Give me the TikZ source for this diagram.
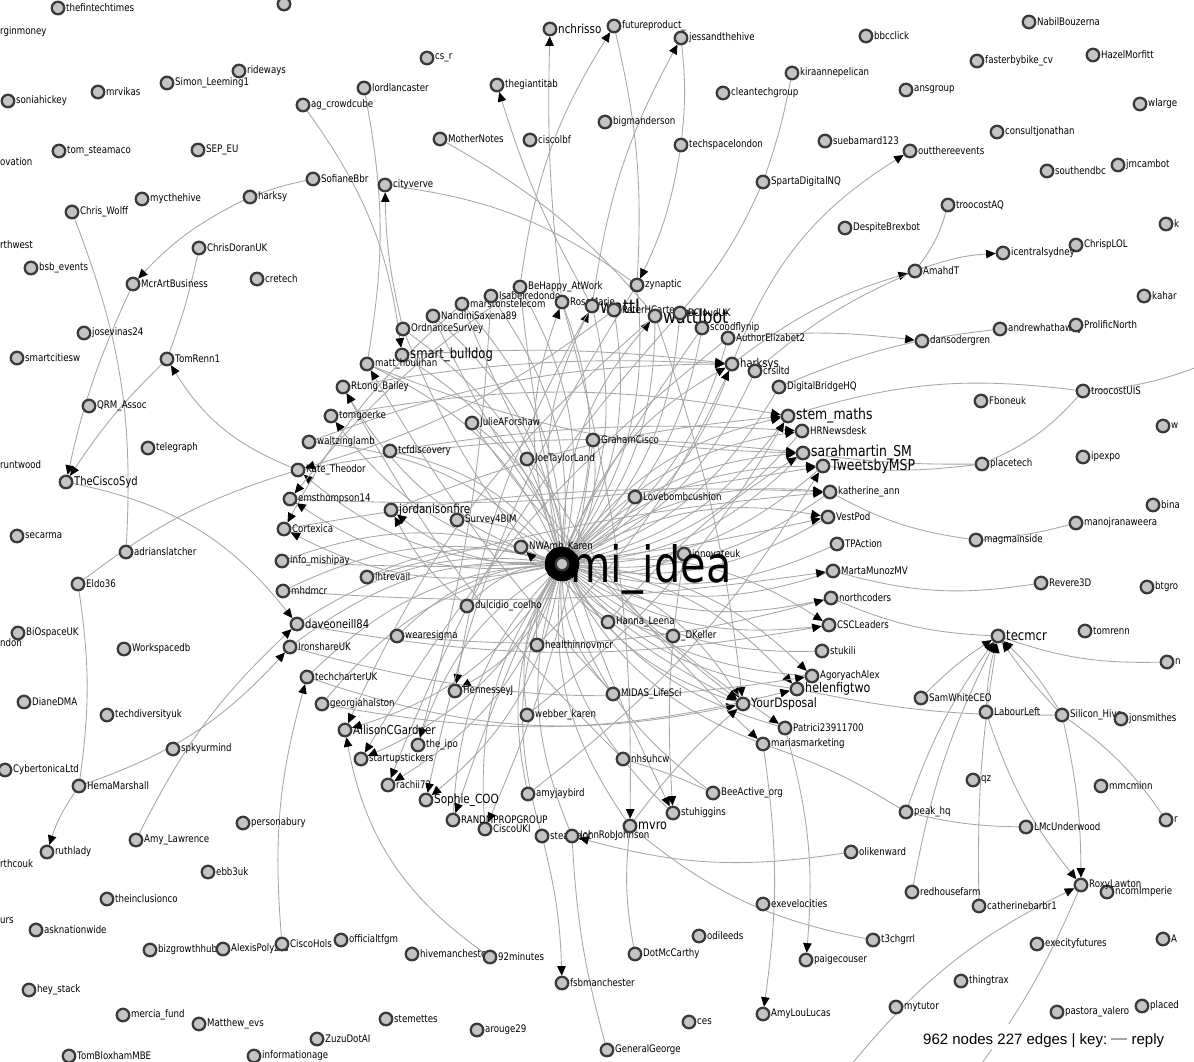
\documentclass[tikz,border=0pt]{standalone}
\usepackage{fontspec}
\setmainfont{DejaVu Sans}
\newfontfamily\lbf[FakeStretch=0.83]{DejaVu Sans}
\newfontfamily\keyf{Liberation Sans}
\usetikzlibrary{arrows.meta}
\definecolor{ndfill}{HTML}{C4C4C4}
\definecolor{ndline}{HTML}{3A3A3A}
\definecolor{edcol}{HTML}{A6A6A6}
\pgfdeclarelayer{bg}
\pgfsetlayers{bg,main}
\tikzset{
  nd/.style={circle, draw=ndline, fill=ndfill, line width=2.3pt, minimum size=12.5pt, inner sep=0pt},
  lb/.style={font=\lbf\fontsize{10.4}{12}\selectfont, text=black, inner sep=0.6pt},
  ed/.style={draw=edcol, line width=0.85pt},
  ar/.style={ed, -{Triangle[length=9.5pt,width=8.5pt,color=black]}},
  edge txt/.style={lb, anchor=west, inner sep=0pt},
}
% small and large labelled nodes
\newcommand\N[4]{\node[nd,label={[lb]0:{#4}}] (#1) at (#2,#3) {};}
\newcommand\B[5]{\node[nd,label={[lb,font=\lbf\fontsize{#5}{#5}\selectfont]0:{#4}}] (#1) at (#2,#3) {};}
\begin{document}
\begin{tikzpicture}[x=1pt,y=-1pt]
\useasboundingbox (0,0) rectangle (1194,1061);
\begin{pgfonlayer}{bg}
\fill[white] (0,0) rectangle (1194,1061);
\end{pgfonlayer}

% ---------- outer left ----------
\N{tft}{58}{8}{thefintechtimes}
\N{topA}{284}{4}{}
\N{rideways}{239}{71}{rideways}
\N{SimonLeeming1}{167}{83}{Simon\_Leeming1}
\N{mrvikas}{98}{92}{mrvikas}
\N{soniahickey}{8}{101}{soniahickey}
\N{tomsteamaco}{59}{151}{tom\_steamaco}
\N{SEPEU}{198}{150}{SEP\_EU}
\N{mycthehive}{142}{199}{mycthehive}
\N{harksy}{250}{197}{harksy}
\N{ChrisWolff}{72}{212}{Chris\_Wolff}
\N{ChrisDoranUK}{199}{248}{ChrisDoranUK}
\N{bsbevents}{31}{268}{bsb\_events}
\N{cretech}{257}{279}{cretech}
\N{McrArtBusiness}{133}{284}{McrArtBusiness}
\N{josevinas24}{84}{333}{josevinas24}
\N{smartcitiesw}{17}{358}{smartcitiesw}
\N{TomRenn1}{167}{359}{TomRenn1}
\N{QRMAssoc}{89}{406}{QRM\_Assoc}
\N{telegraph}{148}{448}{telegraph}
\B{TheCiscoSyd}{66}{482}{TheCiscoSyd}{12}
\N{secarma}{17}{536}{secarma}
\N{adrianslatcher}{126}{552}{adrianslatcher}
\N{Eldo36}{78}{584}{Eldo36}
\N{BiOspaceUK}{18}{633}{BiOspaceUK}
\N{Workspacedb}{124}{649}{Workspacedb}
\N{DianeDMA}{24}{702}{DianeDMA}
\N{techdiversityuk}{107}{715}{techdiversityuk}
\N{spkyurmind}{173}{749}{spkyurmind}
\N{CybertonicaLtd}{5}{770}{CybertonicaLtd}
\N{HemaMarshall}{79}{786}{HemaMarshall}
\N{personabury}{243}{823}{personabury}
\N{AmyLawrence}{136}{840}{Amy\_Lawrence}
\N{ruthlady}{47}{852}{ruthlady}
\N{ebb3uk}{208}{872}{ebb3uk}
\N{theinclusionco}{107}{899}{theinclusionco}
\N{asknationwide}{36}{930}{asknationwide}
\N{bizgrowthhub}{150}{950}{bizgrowthhub}
\N{AlexisPolyzos}{223}{949}{AlexisPolyzos}
\N{CiscoHols}{282}{944}{CiscoHols}
\N{heystack}{29}{990}{hey\_stack}
\N{merciafund}{123}{1015}{mercia\_fund}
\N{Matthewevs}{199}{1024}{Matthew\_evs}
\N{TomBloxhamMBE}{69}{1056}{TomBloxhamMBE}
\N{informationage}{254}{1056}{informationage}
\node[edge txt] at (0,32) {rginmoney};
\node[edge txt] at (0,162) {ovation};
\node[edge txt] at (0,245) {rthwest};
\node[edge txt] at (0,465) {runtwood};
\node[edge txt] at (0,643) {ndon};
\node[edge txt] at (0,864) {rthcouk};
\node[edge txt] at (0,921) {urs};

% ---------- outer top ----------
\N{csr}{427}{58}{cs\_r}
\N{lordlancaster}{364}{88}{lordlancaster}
\N{agcrowdcube}{303}{105}{ag\_crowdcube}
\N{theglantitab}{497}{85}{thegiantitab}
\B{nchrisso}{550}{29}{nchrisso}{12.5}
\N{MotherNotes}{440}{139}{MotherNotes}
\N{ciscolbf}{530}{140}{ciscolbf}
\N{SofianeBbr}{313}{179}{SofianeBbr}
\N{cityverve}{385}{185}{cityverve}
\N{bigmanderson}{605}{122}{bigmanderson}
\N{futureproduct}{614}{26}{futureproduct\_}
\N{jessandthehive}{681}{38}{jessandthehive}
\N{bbcclick}{866}{36}{bbcclick}
\N{kiraannepelican}{792}{73}{kiraannepelican}
\N{cleantechgroup}{723}{93}{cleantechgroup}
\N{techspacelondon}{681}{145}{techspacelondon}
\N{suebarnard123}{825}{141}{suebarnard123}
\N{SpartaDigitalNQ}{763}{182}{SpartaDigitalNQ}
\N{DespiteBrexbot}{845}{228}{DespiteBrexbot}

% ---------- outer right ----------
\N{NabilBouzerna}{1029}{22}{NabilBouzerna}
\N{fasterbybike}{977}{61}{fasterbybike\_cv}
\N{HazelMorfitt}{1093}{55}{HazelMorfitt}
\N{ansgroup}{906}{90}{ansgroup}
\N{wlarge}{1140}{104}{wlarge}
\N{consultjonathan}{997}{132}{consultjonathan}
\N{outthereevents}{910}{151}{outthereevents}
\N{southendbc}{1047}{171}{southendbc}
\N{jmcambot}{1118}{165}{jmcambot}
\N{troocostAQ}{948}{205}{troocostAQ}
\N{kk}{1166}{224}{k}
\N{ChrispLOL}{1076}{245}{ChrispLOL}
\N{icentralsydney}{1003}{253}{icentralsydney}
\N{AmahdT}{915}{271}{AmahdT}
\N{kahar}{1144}{296}{kahar}
\N{andrewhathaway}{1000}{329}{andrewhathaway}
\N{ProlificNorth}{1076}{325}{ProlificNorth}
\N{dansodergren}{922}{341}{dansodergren}
\N{troocostUIS}{1083}{391}{troocostUIS}
\N{Fboneuk}{981}{401}{Fboneuk}
\N{ww}{1163}{426}{w}
\N{ipexpo}{1083}{457}{ipexpo}
\N{placetech}{982}{464}{placetech}
\N{bina}{1153}{505}{bina}
\N{manojranaweera}{1076}{523}{manojranaweera}
\N{magmainside}{976}{540}{magmainside}
\N{Revere3D}{1041}{583}{Revere3D}
\N{btgro}{1147}{587}{btgro}
\B{tecmcr}{998}{636}{tecmcr}{14}
\N{tomrenn}{1085}{631}{tomrenn}
\N{nn}{1167}{662}{n}
\N{SamWhiteCEO}{921}{698}{SamWhiteCEO}
\N{LabourLeft}{986}{712}{LabourLeft}
\N{SiliconHive}{1062}{715}{Silicon\_Hive}
\N{jonsmithes}{1121}{719}{jonsmithes}
\N{qz}{973}{780}{qz}
\N{mmcminn}{1101}{786}{mmcminn}
\N{rr}{1166}{820}{r}
\N{peakhq}{906}{812}{peak\_hq}
\N{LMcUnderwood}{1026}{827}{LMcUnderwood}
\N{Imperie}{1107}{892}{ncomImperie}
\N{RoxyLawton}{1081}{885}{RoxyLawton}
\N{redhousefarm}{912}{892}{redhousefarm}
\N{catherinebarbr1}{979}{906}{catherinebarbr1}
\N{AA}{1163}{939}{A}
\N{execityfutures}{1037}{944}{execityfutures}
\N{thingtrax}{961}{981}{thingtrax}
\N{mytutor}{896}{1007}{mytutor}
\N{pastoravalero}{1057}{1012}{pastora\_valero}
\N{placed}{1142}{1006}{placed}

% ---------- outer bottom ----------
\N{Patrici}{785}{728}{Patrici23911700}
\N{mariasmarketing}{763}{744}{mariasmarketing}
\N{nhsuhcw}{623}{759}{nhsuhcw}
\N{BeeActive}{713}{793}{BeeActive\_org}
\N{stuhiggins}{673}{813}{stuhiggins}
\N{olikenward}{851}{852}{olikenward}
\N{exevelocities}{763}{904}{exevelocities}
\N{odileeds}{699}{936}{odileeds}
\N{t3chgrrl}{873}{940}{t3chgrrl}
\N{DotMcCarthy}{635}{954}{DotMcCarthy}
\N{paigecouser}{806}{960}{paigecouser}
\N{AmyLouLucas}{763}{1014}{AmyLouLucas}
\N{ces}{689}{1022}{ces}
\N{GeneralGeorge}{607}{1050}{GeneralGeorge}
\N{officialtfgm}{341}{940}{officialtfgm}
\N{hivemanchester}{412}{954}{hivemanchester}
\N{minutes92}{490}{957}{92minutes}
\N{fsbmanchester}{562}{983}{fsbmanchester}
\N{stemettes}{386}{1019}{stemettes}
\N{arouge29}{477}{1030}{arouge29}
\N{ZuzuDotAI}{317}{1039}{ZuzuDotAI}

% ---------- inner ring ----------
\N{OrdnanceSurvey}{403}{329}{OrdnanceSurvey}
\N{NandiniSaxena89}{433}{316}{NandiniSaxena89}
\N{marstonstelecom}{462}{304}{marstonstelecom}
\N{Isabel}{491}{296}{Isabelredondo}
\N{BeHappy}{520}{287}{BeHappy\_AtWork}
\N{RoseMarie}{562}{302}{RoseMarie}
\N{zynaptic}{637}{285}{zynaptic}
\B{wattlA}{592}{306}{wattl}{19}
\N{PeterHCarter}{614}{310}{PeterHCarter}
\B{wattlbot}{655}{316}{wattlbot}{19}
\N{BCloudUK}{680}{313}{BCloudUK}
\N{scood}{702}{328}{scoodflynip}
\N{AuthorElizabet2}{728}{338}{AuthorElizabet2}
\B{smartbulldog}{402}{355}{smart\_bulldog}{14}
\N{matthoulihan}{367}{364}{matt\_houlihan}
\N{RLongBailey}{343}{387}{RLong\_Bailey}
\N{tomgoerke}{331}{416}{tomgoerke}
\N{JulieAForshaw}{472}{423}{JulieAForshaw}
\N{waltzinglamb}{309}{442}{waltzinglamb}
\N{tcfdiscovery}{390}{451}{tcfdiscovery}
\N{JoeTaylorLand}{527}{459}{JoeTaylorLand}
\N{GrahamCisco}{593}{440}{GrahamCisco}
\N{KateTheodor}{298}{470}{Kate\_Theodor}
\N{emsthompson14}{290}{499}{emsthompson14}
\B{jordanisonfire}{391}{510}{jordanisonfire}{12.5}
\N{Survey4BIM}{457}{520}{Survey4BIM}
\N{Cortexica}{284}{529}{Cortexica}
\N{infomishipay}{282}{561}{info\_mishipay}
\N{lhtrevail}{367}{577}{lhtrevail}
\N{mhdmcr}{283}{591}{mhdmcr}
\N{dulcidio}{467}{606}{dulcidio\_coelho}
\B{daveoneill84}{297}{624}{daveoneill84}{12}
\N{IronshareUK}{290}{647}{IronshareUK}
\N{wearesigma}{397}{636}{wearesigma}
\N{healthinnovmcr}{537}{645}{healthinnovmcr}
\N{techcharterUK}{307}{677}{techcharterUK}
\N{HennesseyJ}{455}{691}{HennesseyJ}
\N{georgiahalston}{322}{704}{georgiahalston}
\N{webberkaren}{527}{715}{webber\_karen}
\B{AllisonCGardner}{345}{730}{AllisonCGardner}{12.3}
\N{theipo}{418}{745}{the\_ipo}
\N{startupstickers}{361}{759}{startupstickers}
\N{rachii72}{388}{785}{rachii72}
\N{amyjaybird}{528}{794}{amyjaybird}
\B{SophieCOO}{426}{800}{Sophie\_COO}{12.6}
\N{CiscoUKI}{485}{829}{CiscoUKI}
\N{RANDM}{453}{820}{RANDMPROPGROUP}
\N{steamacc}{542}{836}{steamacc}
\N{JohnRob}{572}{836}{JohnRobJohnson}
\B{mvro}{630}{826}{mvro}{13.5}
\N{NWAmbKaren}{521}{547}{NWAmb\_Karen}
\N{Lovebombcushion}{635}{497}{Lovebombcushion}
\N{innovateuk}{684}{554}{innovateuk}
\N{HannaLeena}{608}{622}{Hanna\_Leena}
\N{DKeller}{673}{636}{\_DKeller}
\N{MIDAS}{613}{694}{MIDAS\_LifeSci}
\B{harksys}{732}{364}{harksys}{12}
\N{crsiltd}{755}{371}{crsiltd}
\N{DigitalBridgeHQ}{779}{387}{DigitalBridgeHQ}
\B{stemmaths}{788}{416}{stem\_maths}{15}
\N{HRNewsdesk}{802}{431}{HRNewsdesk}
\B{sarahmartin}{803}{453}{sarahmartin\_SM}{15}
\B{TweetsbyMSP}{823}{466}{TweetsbyMSP}{15}
\N{katherineann}{830}{492}{katherine\_ann}
\N{VestPod}{828}{517}{VestPod}
\N{TPAction}{837}{544}{TPAction}
\N{MartaMunozMV}{833}{571}{MartaMunozMV}
\N{northcoders}{831}{598}{northcoders}
\N{CSCLeaders}{829}{625}{CSCLeaders}
\N{stukili}{822}{651}{stukili}
\N{AgoryachAlex}{812}{676}{AgoryachAlex}
\B{helenfigtwo}{797}{689}{helenfigtwo}{13.4}
\B{YourDsposal}{743}{704}{YourDsposal}{13}
\node[nd] (mi) at (562,564) {};
\node[anchor=base west, inner sep=0pt, font=\lbf\fontsize{50}{50}\selectfont] at (570,582) {mi\_idea};

\coordinate (offR) at (1200,366);
\coordinate (offB) at (850,1066);
\coordinate (offB2) at (980,1066);

% ---------- connectors ----------
\begin{pgfonlayer}{bg}
% replies into the hub
\foreach \s in {OrdnanceSurvey,NandiniSaxena89,marstonstelecom,Isabel,BeHappy,RoseMarie,zynaptic,PeterHCarter,wattlA,wattlbot,BCloudUK,scood,AuthorElizabet2,crsiltd,DigitalBridgeHQ,HRNewsdesk,katherineann,TPAction,northcoders,stukili,helenfigtwo,Patrici,mariasmarketing,MIDAS,BeeActive,nhsuhcw,mvro,JohnRob,steamacc,amyjaybird,webberkaren,CiscoUKI,RANDM,theipo,georgiahalston,techcharterUK,IronshareUK,wearesigma,daveoneill84,mhdmcr,lhtrevail,infomishipay,waltzinglamb,tcfdiscovery,matthoulihan,smartbulldog,JulieAForshaw,JoeTaylorLand,GrahamCisco,Lovebombcushion,Survey4BIM,dulcidio,healthinnovmcr,HannaLeena,DKeller,innovateuk,sarahmartin,stemmaths,harksys,TweetsbyMSP,VestPod,MartaMunozMV,CSCLeaders,AgoryachAlex,YourDsposal}
  \draw[ar] (\s) to[bend left=20] (mi);
% replies out of the hub
\foreach \t in {RLongBailey,tomgoerke,KateTheodor,emsthompson14,Cortexica,jordanisonfire,HennesseyJ,rachii72,SophieCOO,startupstickers,AllisonCGardner,NWAmbKaren,harksys,sarahmartin,TweetsbyMSP,YourDsposal,stemmaths,katherineann,RoseMarie,wattlA,wattlbot,AgoryachAlex,helenfigtwo,HRNewsdesk,VestPod,CSCLeaders}
  \draw[ar] (mi) to[bend left=20] (\t);
% arcs across the ring
\draw[ar] (KateTheodor) to[bend left=8] (sarahmartin);
\draw[ar] (emsthompson14) to[bend right=6] (TweetsbyMSP);
\draw[ar] (Cortexica) to[bend left=6] (katherineann);
\draw[ar] (infomishipay) to[bend right=8] (VestPod);
\draw[ar] (waltzinglamb) to[bend left=10] (harksys);
\draw[ar] (tomgoerke) to[bend left=10] (stemmaths);
\draw[ar] (RLongBailey) to[bend left=6] (harksys);
\draw[ar] (matthoulihan) to[bend right=10] (sarahmartin);
\draw[ar] (mhdmcr) to[bend right=6] (MartaMunozMV);
\draw[ar] (daveoneill84) to[bend right=10] (CSCLeaders);
\draw[ar] (IronshareUK) to[bend right=12] (AgoryachAlex);
\draw[ar] (techcharterUK) to[bend right=15] (YourDsposal);
\draw[ar] (lhtrevail) to[bend left=5] (katherineann);
\draw[ar] (jordanisonfire) to[bend left=8] (stemmaths);
\draw[ar] (tcfdiscovery) to[bend left=6] (HRNewsdesk);
\draw[ar] (wearesigma) to[bend right=10] (northcoders);
\draw[ar] (georgiahalston) to[bend right=12] (helenfigtwo);
\draw[ar] (OrdnanceSurvey) to[bend right=20] (YourDsposal);
\draw[ar] (NandiniSaxena89) to[bend right=15] (Patrici);
\draw[ar] (marstonstelecom) to[bend right=12] (mariasmarketing);
\draw[ar] (BeHappy) to[bend right=10] (stuhiggins);
\draw[ar] (RoseMarie) to[bend left=8] (mvro);
\draw[ar] (wattlA) to[bend right=10] (HennesseyJ);
\draw[ar] (wattlbot) to[bend right=12] (AllisonCGardner);
\draw[ar] (zynaptic) to[bend right=10] (SophieCOO);
\draw[ar] (BCloudUK) to[bend right=10] (rachii72);
\draw[ar] (scood) to[bend right=8] (RANDM);
\draw[ar] (AuthorElizabet2) to[bend right=10] (startupstickers);
\draw[ar] (smartbulldog) to[bend left=5] (harksys);
\draw[ar] (Isabel) to[bend left=6] (theipo);
\draw[ar] (JulieAForshaw) to[bend right=8] (YourDsposal);
\draw[ar] (GrahamCisco) to[bend left=8] (CiscoUKI);
\draw[ar] (wattlbot) to[bend left=6] (YourDsposal);
\draw[ar] (PeterHCarter) to[bend left=10] (KateTheodor);
\draw[ar] (BeHappy) to[bend right=8] (emsthompson14);
\draw[ar] (marstonstelecom) to[bend right=10] (Cortexica);
\draw[ar] (HannaLeena) to[bend left=8] (sarahmartin);
\draw[ar] (healthinnovmcr) to[bend right=10] (harksys);
\draw[ar] (webberkaren) to[bend right=10] (stemmaths);
\draw[ar] (amyjaybird) to[bend right=10] (TweetsbyMSP);
\draw[ar] (dulcidio) to[bend left=10] (jordanisonfire);
\draw[ar] (MIDAS) to[bend left=6] (matthoulihan);
\draw[ar] (nhsuhcw) to[bend left=8] (RLongBailey);
% outer connectors
\draw[ar] (harksys) to[bend left=10] (AmahdT);
\draw[ed] (crsiltd) to[bend left=8] (AmahdT);
\draw[ar] (harksys) to[bend left=18] (outthereevents);
\draw[ar] (AuthorElizabet2) to[bend left=6] (dansodergren);
\draw[ed] (andrewhathaway) to[bend right=8] (DigitalBridgeHQ);
\draw[ar] (AmahdT) to[bend left=8] (icentralsydney);
\draw[ed] (troocostAQ) to[bend left=10] (AmahdT);
\draw[ed] (stemmaths) to[bend left=12] (troocostUIS);
\draw[ed] (troocostUIS) to[bend right=8] (offR);
\draw[ed] (sarahmartin) to[bend right=4] (placetech);
\draw[ed] (TweetsbyMSP) to[bend right=6] (placetech);
\draw[ed] (placetech) to[bend right=12] (troocostUIS);
\draw[ed] (katherineann) to[bend right=10] (magmainside);
\draw[ed] (magmainside) to[bend right=5] (manojranaweera);
\draw[ed] (MartaMunozMV) to[bend right=12] (Revere3D);
\draw[ed] (northcoders) to[bend right=10] (tecmcr);
\draw[ed] (tecmcr) to[bend right=10] (nn);
\draw[ar] (SamWhiteCEO) to[bend left=6] (tecmcr);
\draw[ar] (LabourLeft) to[bend left=6] (tecmcr);
\draw[ar] (SiliconHive) to[bend right=8] (tecmcr);
\draw[ar] (SiliconHive) to[bend left=4] (tecmcr);
\draw[ar] (peakhq) to[bend left=8] (tecmcr);
\draw[ar] (redhousefarm) to[bend left=8] (tecmcr);
\draw[ar] (catherinebarbr1) to[bend left=5] (tecmcr);
\draw[ar] (LabourLeft) to[bend right=10] (RoxyLawton);
\draw[ar] (SiliconHive) to[bend left=6] (RoxyLawton);
\draw[ar] (offB) to[bend left=12] (RoxyLawton);
\draw[ed] (RoxyLawton) to[bend left=6] (offB2);
\draw[ed] (SiliconHive) to[bend left=10] (rr);
\draw[ed] (helenfigtwo) to[bend right=6] (SiliconHive);
\draw[ed] (peakhq) to[bend right=6] (LMcUnderwood);
\draw[ed] (mariasmarketing) to[bend left=6] (peakhq);
\draw[ar] (Patrici) to[bend left=10] (paigecouser);
\draw[ar] (mariasmarketing) to[bend left=8] (AmyLouLucas);
\draw[ar] (olikenward) to[bend left=12] (JohnRob);
\draw[ed] (t3chgrrl) to[bend left=14] (mvro);
\draw[ed] (mvro) to[bend right=8] (DotMcCarthy);
\draw[ed] (JohnRob) to[bend right=6] (GeneralGeorge);
\draw[ar] (steamacc) to[bend left=6] (fsbmanchester);
\draw[ar] (minutes92) to[bend left=22] (AllisonCGardner);
\draw[ar] (CiscoHols) to[bend left=10] (techcharterUK);
\draw[ar] (AmyLawrence) to[bend left=10] (daveoneill84);
\draw[ar] (HemaMarshall) to[bend right=14] (IronshareUK);
\draw[ed] (Eldo36) to[bend left=8] (HemaMarshall);
\draw[ar] (HemaMarshall) to[bend right=8] (ruthlady);
\draw[ed] (Eldo36) to[bend left=10] (KateTheodor);
\draw[ar] (TheCiscoSyd) to[bend left=20] (daveoneill84);
\draw[ar] (TomRenn1) to[bend right=6] (TheCiscoSyd);
\draw[ar] (KateTheodor) to[bend left=18] (TomRenn1);
\draw[ed] (ChrisDoranUK) to[bend left=4] (TomRenn1);
\draw[ed] (ChrisWolff) to[bend left=12] (adrianslatcher);
\draw[ar] (harksy) to[bend right=10] (McrArtBusiness);
\draw[ar] (McrArtBusiness) to[bend right=6] (TheCiscoSyd);
\draw[ed] (SofianeBbr) to[bend right=4] (harksy);
\draw[ar] (OrdnanceSurvey) to[bend left=6] (cityverve);
\draw[ar] (agcrowdcube) to[bend left=14] (smartbulldog);
\draw[ed] (lordlancaster) to[bend left=10] (matthoulihan);
\draw[ed] (cityverve) to[bend left=14] (zynaptic);
\draw[ed] (MotherNotes) to[bend left=10] (wattlbot);
\draw[ar] (wattlA) to[bend left=6] (theglantitab);
\draw[ar] (RoseMarie) to[bend left=4] (nchrisso);
\draw[ar] (BeHappy) to[bend left=12] (futureproduct);
\draw[ed] (futureproduct) to[bend left=8] (zynaptic);
\draw[ar] (wattlA) to[bend left=10] (jessandthehive);
\draw[ed] (jessandthehive) to[bend left=6] (techspacelondon);
\draw[ar] (techspacelondon) to[bend left=8] (zynaptic);
\draw[ed] (SpartaDigitalNQ) to[bend right=4] (kiraannepelican);
\draw[ed] (SpartaDigitalNQ) to[bend left=8] (BCloudUK);
\draw[ar] (innovateuk) to[bend right=6] (stuhiggins);
\draw[ed] (nhsuhcw) to[bend left=4] (BeeActive);
\draw[ed] (nhsuhcw) to[bend right=4] (stuhiggins);
\draw[ar] (mvro) to[bend left=6] (YourDsposal);
\fill[black] (mi) circle (17pt);
\end{pgfonlayer}

% ---------- statistics and key ----------
\fill[white] (912,1024) rectangle (1194,1049);
\node[anchor=base west, inner sep=0pt, font=\keyf\fontsize{15}{15}\selectfont] (keytext) at (923,1044) {962 nodes 227 edges | key:};
\draw[edcol, line width=2pt] ([xshift=4pt,yshift=5pt]keytext.base east) -- ([xshift=20pt,yshift=5pt]keytext.base east);
\node[anchor=base west, inner sep=0pt, font=\keyf\fontsize{15}{15}\selectfont] (keyreply) at ([xshift=24pt]keytext.base east) {reply};
\end{tikzpicture}
\end{document}
